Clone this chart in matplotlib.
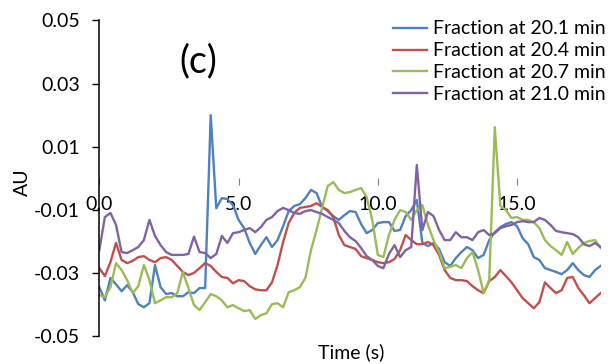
import numpy as np
import matplotlib.pyplot as plt

# time axis, seconds (0.2 s steps)
time_s = np.round(np.arange(0, 91) * 0.2, 1)

frac_201 = [-0.0345, -0.0387, -0.0316, -0.0336, -0.0358, -0.0339, -0.0361, -0.0399, -0.0409, -0.0396,
            -0.0275, -0.0345, -0.0367, -0.0364, -0.0374, -0.0374, -0.0361, -0.0364, -0.0348, -0.0348,
            0.0200, -0.0095, -0.0063, -0.0066, -0.0085, -0.0132, -0.0158, -0.0205, -0.0240, -0.0212,
            -0.0187, -0.0218, -0.0196, -0.0152, -0.0104, -0.0088, -0.0082, -0.0063, -0.0037, -0.0047,
            -0.0091, -0.0104, -0.0120, -0.0132, -0.0117, -0.0104, -0.0107, -0.0145, -0.0174, -0.0164,
            -0.0142, -0.0139, -0.0139, -0.0167, -0.0164, -0.0120, -0.0101, -0.0069, -0.0205, -0.0215,
            -0.0205, -0.0224, -0.0266, -0.0278, -0.0253, -0.0234, -0.0218, -0.0228, -0.0253, -0.0243,
            -0.0196, -0.0171, -0.0155, -0.0145, -0.0139, -0.0152, -0.0190, -0.0209, -0.0250, -0.0259,
            -0.0285, -0.0291, -0.0297, -0.0304, -0.0291, -0.0269, -0.0291, -0.0307, -0.0313, -0.0291,
            -0.0278]

frac_204 = [-0.0285, -0.0310, -0.0266, -0.0205, -0.0259, -0.0269, -0.0262, -0.0250, -0.0247, -0.0259,
            -0.0266, -0.0253, -0.0250, -0.0259, -0.0278, -0.0297, -0.0307, -0.0300, -0.0285, -0.0269,
            -0.0278, -0.0297, -0.0313, -0.0316, -0.0333, -0.0323, -0.0326, -0.0342, -0.0352, -0.0355,
            -0.0355, -0.0330, -0.0275, -0.0202, -0.0142, -0.0110, -0.0094, -0.0091, -0.0088, -0.0079,
            -0.0091, -0.0101, -0.0123, -0.0180, -0.0212, -0.0218, -0.0224, -0.0247, -0.0253, -0.0259,
            -0.0266, -0.0269, -0.0266, -0.0256, -0.0228, -0.0180, -0.0196, -0.0209, -0.0209, -0.0202,
            -0.0212, -0.0243, -0.0291, -0.0316, -0.0323, -0.0323, -0.0326, -0.0342, -0.0355, -0.0364,
            -0.0326, -0.0313, -0.0291, -0.0310, -0.0330, -0.0355, -0.0380, -0.0396, -0.0412, -0.0393,
            -0.0330, -0.0348, -0.0364, -0.0355, -0.0316, -0.0313, -0.0348, -0.0371, -0.0396, -0.0380,
            -0.0364]

frac_207 = [-0.0370, -0.0377, -0.0345, -0.0269, -0.0291, -0.0323, -0.0364, -0.0342, -0.0275, -0.0323,
            -0.0396, -0.0387, -0.0377, -0.0377, -0.0364, -0.0297, -0.0348, -0.0402, -0.0418, -0.0393,
            -0.0367, -0.0374, -0.0387, -0.0409, -0.0402, -0.0412, -0.0421, -0.0418, -0.0446, -0.0434,
            -0.0428, -0.0399, -0.0396, -0.0409, -0.0361, -0.0355, -0.0345, -0.0316, -0.0228, -0.0164,
            -0.0094, -0.0025, -0.0012, -0.0037, -0.0047, -0.0044, -0.0037, -0.0031, -0.0060, -0.0132,
            -0.0243, -0.0250, -0.0180, -0.0132, -0.0101, -0.0107, -0.0132, -0.0101, -0.0085, -0.0148,
            -0.0196, -0.0234, -0.0285, -0.0281, -0.0275, -0.0285, -0.0253, -0.0234, -0.0291, -0.0364,
            -0.0323, 0.0162, -0.0088, -0.0101, -0.0126, -0.0123, -0.0132, -0.0132, -0.0139, -0.0158,
            -0.0196, -0.0215, -0.0228, -0.0243, -0.0202, -0.0240, -0.0221, -0.0205, -0.0199, -0.0196,
            -0.0221]

frac_210 = [-0.0228, -0.0123, -0.0110, -0.0148, -0.0234, -0.0237, -0.0228, -0.0218, -0.0196, -0.0132,
            -0.0183, -0.0212, -0.0234, -0.0243, -0.0243, -0.0243, -0.0240, -0.0185, -0.0234, -0.0237,
            -0.0253, -0.0240, -0.0183, -0.0205, -0.0174, -0.0171, -0.0164, -0.0158, -0.0171, -0.0155,
            -0.0132, -0.0123, -0.0104, -0.0094, -0.0101, -0.0110, -0.0113, -0.0104, -0.0101, -0.0107,
            -0.0113, -0.0123, -0.0132, -0.0142, -0.0167, -0.0187, -0.0199, -0.0221, -0.0247, -0.0259,
            -0.0278, -0.0285, -0.0240, -0.0212, -0.0250, -0.0228, -0.0218, 0.0042, -0.0164, -0.0107,
            -0.0120, -0.0164, -0.0196, -0.0196, -0.0171, -0.0187, -0.0187, -0.0196, -0.0171, -0.0164,
            -0.0180, -0.0174, -0.0158, -0.0152, -0.0148, -0.0139, -0.0136, -0.0139, -0.0139, -0.0126,
            -0.0132, -0.0148, -0.0167, -0.0171, -0.0174, -0.0177, -0.0187, -0.0209, -0.0215, -0.0205,
            -0.0218]

labels = ["Fraction at 20.1 min", "Fraction at 20.4 min",
          "Fraction at 20.7 min", "Fraction at 21.0 min"]
colors = ["#4F81BD", "#C0504D", "#9BBB59", "#8064A2"]

plt.rcParams['font.family'] = ['Lato', 'DejaVu Sans']

fig = plt.figure(figsize=(6.13, 3.64), dpi=100)
ax = fig.add_axes([0.162, 0.0769, 0.8178, 0.8668])

for y, lab, c in zip([frac_201, frac_204, frac_207, frac_210], labels, colors):
    ax.plot(time_s, y, color=c, lw=1.7, label=lab)

ax.set_xlim(0, 18)
ax.set_ylim(-0.05, 0.05)

# y axis on the left, x axis crossing at zero with no line
ax.spines['top'].set_visible(False)
ax.spines['right'].set_visible(False)
ax.spines['bottom'].set_position(('data', 0))
ax.spines['bottom'].set_color('none')
ax.spines['left'].set_linewidth(1.1)

yt = [-0.05, -0.03, -0.01, 0.01, 0.03, 0.05]
ax.set_yticks(yt)
ax.set_yticklabels(["-0.05", "-0.03", "-0.01", "0.01", "0.03", "0.05"])
xt = [0, 5, 10, 15]
ax.set_xticks(xt)
ax.set_xticklabels(["0.0", "5.0", "10.0", "15.0"])
ax.tick_params(axis='y', direction='out', length=5, width=1, labelsize=14, pad=9)
ax.tick_params(axis='x', direction='out', length=5, width=0.8, color='#808080',
               labelsize=14, pad=8)

fig.text(0.036, 0.5, "AU", rotation=90, ha='center', va='center', fontsize=14)
fig.text(0.573, 0.033, "Time (s)", ha='center', va='center', fontsize=14)
ax.text(3.55, 0.0370, "(c)", ha='center', va='center', fontsize=27)

ax.legend(loc='upper right', bbox_to_anchor=(1.01, 1.0), frameon=False,
          fontsize=14, handlelength=1.75, handletextpad=0.3,
          labelspacing=0.25, borderaxespad=0, borderpad=0)

fig.savefig("out.png", dpi=100)
